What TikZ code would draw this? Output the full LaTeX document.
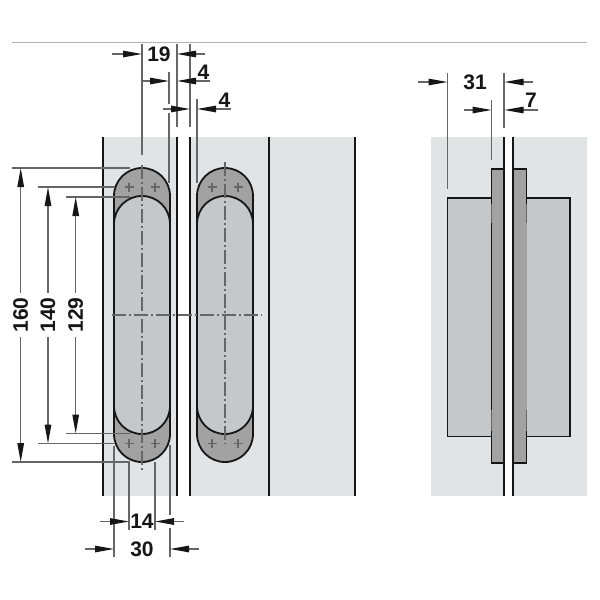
\documentclass[tikz,border=0pt]{standalone}
\usepackage{fontspec}
\setmainfont{Liberation Sans}
\usetikzlibrary{arrows.meta}
\definecolor{bgc}{HTML}{E2E3E5}
\definecolor{outerc}{HTML}{A2A2A3}
\definecolor{innerc}{HTML}{C6C7C8}
\definecolor{edgec}{HTML}{161616}
\definecolor{dimc}{HTML}{666666}
\tikzset{
  x=1pt,y=-1pt,
  wall/.style={draw=edgec,line width=1.8pt},
  body/.style={draw=edgec,line width=1.8pt},
  ext/.style={draw=dimc,line width=1.2pt},
  center line/.style={draw=dimc,line width=1.2pt,dash pattern=on 14pt off 3pt on 2pt off 3pt},
  dimen/.style={draw=dimc,line width=1.2pt,-{Triangle[length=19pt,width=6.5pt,color=edgec]}},
  lab/.style={font=\bfseries\fontsize{21}{22}\selectfont,text=edgec,inner sep=0pt},
  crossmark/.style={draw=dimc,line width=1.2pt},
}
\newcommand\slotpath[2]{(-28,#1+28) .. controls (-28,#1+12.5) and (-15.5,#1) .. (0,#1) .. controls (15.5,#1) and (28,#1+12.5) .. (28,#1+28) -- (28,#2-28) .. controls (28,#2-12.5) and (15.5,#2) .. (0,#2) .. controls (-15.5,#2) and (-28,#2-12.5) .. (-28,#2-28) -- cycle}
\begin{document}
\begin{tikzpicture}
\useasboundingbox (0,0) rectangle (600,600);
\fill[white] (0,0) rectangle (600,600);
\draw[draw=black!30,line width=1pt] (12,42.5) -- (587,42.5);
% left view: backgrounds
\fill[bgc] (103,137) rectangle (177,495.5);
\fill[bgc] (190,137) rectangle (355,495.5);
\foreach \wx in {103,177,190,269,355} \draw[wall] (\wx,137) -- (\wx,495.5);
% hinges
\foreach \cx in {142,225} {
  \begin{scope}[xshift=\cx pt]
    \filldraw[body,fill=outerc] \slotpath{168}{462};
    \filldraw[body,fill=innerc] \slotpath{196}{434};
    \foreach \px in {-13,13} \foreach \py in {187,443.5} {
      \draw[crossmark] (\px-4.5,\py) -- (\px+4.5,\py) (\px,\py-4.5) -- (\px,\py+4.5);
    }
  \end{scope}
}
% centre lines
\draw[center line] (142,165) -- (142,471);
\draw[center line] (225,162) -- (225,444);
\draw[center line] (112,315) -- (262,315);
% top extension lines
\draw[ext] (142,44) -- (142,155);
\draw[ext] (177,44) -- (177,127);
\draw[ext] (190,44) -- (190,127);
\draw[ext] (169,72) -- (169,104) (169,113) -- (169,183);
\draw[ext] (197,99) -- (197,183);
% top dimensions
\coordinate (a19l) at (112,54); \coordinate (b19l) at (142,54);
\coordinate (a19r) at (205,54); \coordinate (b19r) at (177,54);
\draw[dimen] (a19l) -- (b19l);
\draw[dimen] (a19r) -- (b19r);
\node[lab] (n19) at (159,54) {19};
\coordinate (a4l) at (142,81); \coordinate (b4l) at (169,81);
\coordinate (a4r) at (210,81); \coordinate (b4r) at (177,81);
\draw[dimen] (a4l) -- (b4l);
\draw[dimen] (a4r) -- (b4r);
\node[lab] (n4a) at (203.5,72) {4};
\coordinate (c4l) at (163,109); \coordinate (d4l) at (190,109);
\coordinate (c4r) at (231,109); \coordinate (d4r) at (197,109);
\draw[dimen] (c4l) -- (d4l);
\draw[dimen] (c4r) -- (d4r);
\node[lab] (n4b) at (224.5,100) {4};
% left extension lines
\draw[ext] (12,168) -- (130,168);
\draw[ext] (38,187) -- (115,187);
\draw[ext] (66,197) -- (130,197);
\draw[ext] (66,433.5) -- (130,433.5);
\draw[ext] (38,443.5) -- (115,443.5);
\draw[ext] (12,462) -- (130,462);
% left dimensions
\foreach \dx/\ty/\by/\txt/\nm in {20.7/168/462/160/n160,48/187/443.5/140/n140,75.7/197/433.5/129/n129} {
  \coordinate (m\nm a) at (\dx,293); \coordinate (m\nm b) at (\dx,\ty);
  \coordinate (m\nm c) at (\dx,337); \coordinate (m\nm d) at (\dx,\by);
  \draw[dimen] (m\nm a) -- (m\nm b);
  \draw[dimen] (m\nm c) -- (m\nm d);
  \node[lab,rotate=90] (\nm) at (\dx,315) {\txt};
}
% bottom extension lines
\draw[ext] (114,446) -- (114,557);
\draw[ext] (129,462) -- (129,530);
\draw[ext] (155,462) -- (155,530);
\draw[ext] (170,445) -- (170,515) (170,528) -- (170,557);
% bottom dimensions
\coordinate (e14l) at (100,521.5); \coordinate (f14l) at (129,521.5);
\coordinate (e14r) at (184,521.5); \coordinate (f14r) at (155,521.5);
\draw[dimen] (e14l) -- (f14l);
\draw[dimen] (e14r) -- (f14r);
\node[lab] (n14) at (142,521.5) {14};
\coordinate (e30l) at (85,549); \coordinate (f30l) at (114,549);
\coordinate (e30r) at (199,549); \coordinate (f30r) at (170,549);
\draw[dimen] (e30l) -- (f30l);
\draw[dimen] (e30r) -- (f30r);
\node[lab] (n30) at (142,549) {30};
% right view
\fill[bgc] (431,137) rectangle (504,495.5);
\fill[bgc] (513,137) rectangle (587,495.5);
\filldraw[body,fill=innerc] (447.5,198) rectangle (491.5,436.5);
\filldraw[body,fill=innerc] (526.5,198) rectangle (570,436.5);
\fill[outerc] (491.5,169) rectangle (504,463);
\fill[outerc] (513,169) rectangle (526.5,463);
\draw[body] (491.5,204) -- (491.5,169) -- (504,169);
\draw[body] (491.5,431) -- (491.5,463) -- (504,463);
\draw[body] (526.5,204) -- (526.5,169) -- (513,169);
\draw[body] (526.5,431) -- (526.5,463) -- (513,463);
\foreach \gx in {491.5,526.5} \draw[draw=dimc,line width=1.4pt] (\gx,204) -- (\gx,223) (\gx,410) -- (\gx,431);
\draw[wall] (504,137) -- (504,495.5);
\draw[wall] (513,137) -- (513,495.5);
% right extension lines
\draw[ext] (447.5,73) -- (447.5,189);
\draw[ext] (504,73) -- (504,128);
\draw[ext] (491.5,100) -- (491.5,160);
% right dimensions
\coordinate (g31l) at (418,82); \coordinate (h31l) at (447.5,82);
\coordinate (g31r) at (533,82); \coordinate (h31r) at (504.5,82);
\draw[dimen] (g31l) -- (h31l);
\draw[dimen] (g31r) -- (h31r);
\node[lab] (n31) at (475,82) {31};
\coordinate (g7l) at (464,110); \coordinate (h7l) at (491.5,110);
\coordinate (g7r) at (538,110); \coordinate (h7r) at (504.5,110);
\draw[dimen] (g7l) -- (h7l);
\draw[dimen] (g7r) -- (h7r);
\node[lab] (n7) at (531,100) {7};
\end{tikzpicture}
\end{document}
